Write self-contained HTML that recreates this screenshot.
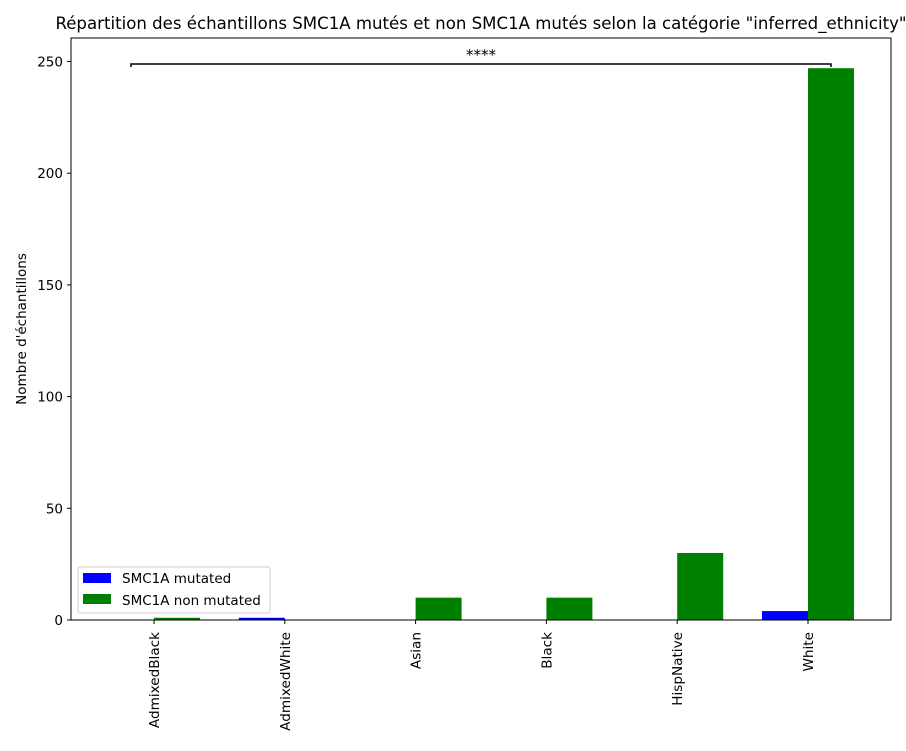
<!DOCTYPE html>
<html><head><meta charset="utf-8"><style>
body{margin:0;background:#fff;}
svg text{font-family:"DejaVu Sans","Liberation Sans",sans-serif;}
</style></head><body>
<svg id="chart" width="906" height="746" xmlns="http://www.w3.org/2000/svg">
<rect width="906" height="746" fill="#fff"/>
<text x="481" y="29" font-size="16.6" text-anchor="middle">Répartition des échantillons SMC1A mutés et non SMC1A mutés selon la catégorie "inferred_ethnicity"</text>
<text transform="translate(26,329) rotate(-90)" font-size="13.5" text-anchor="middle">Nombre d'échantillons</text>
<g id="bars"></g>
<g id="axes"></g>
<rect x="71" y="38" width="820" height="582" fill="none" stroke="#000" stroke-width="1"/>
<g>
<path d="M131 67 V64 H831 V67" fill="none" stroke="#000" stroke-width="1.5"/>
<text x="481" y="60" font-size="15" text-anchor="middle">****</text>
</g>
<g>
<rect x="78" y="567" width="192" height="46" rx="2" fill="#fff" fill-opacity="0.8" stroke="#ccc"/>
<rect x="83" y="573" width="28" height="10" fill="#0000ff"/>
<text x="122" y="583" font-size="13.5">SMC1A mutated</text>
<rect x="83" y="594" width="28" height="10" fill="#008000"/>
<text x="122" y="605" font-size="13.5">SMC1A non mutated</text>
</g>
</svg>
<script>
const categories=["AdmixedBlack","AdmixedWhite","Asian","Black","HispNative","White"];
const mutated=[0,1,0,0,0,4];
const nonMutated=[1,0,10,10,30,247];
const yTicks=[0,50,100,150,200,250];
const NS="http://www.w3.org/2000/svg";
const y=v=>620-v*(620-61.5)/250;
const xc=i=>154+i*130.8;
const bw=46;
const bars=document.getElementById('bars'),axes=document.getElementById('axes');
function mk(t,a,p){const e=document.createElementNS(NS,t);for(const k in a)e.setAttribute(k,a[k]);p.appendChild(e);return e;}
categories.forEach((c,i)=>{
 const b1=mk('rect',{x:xc(i)-bw,y:y(mutated[i]),width:bw,height:620-y(mutated[i]),fill:'#0000ff'},bars);
 
 
 const b2=mk('rect',{x:xc(i),y:y(nonMutated[i]),width:bw,height:620-y(nonMutated[i]),fill:'#008000'},bars);
 
 
 mk('line',{x1:xc(i),x2:xc(i),y1:620,y2:624,stroke:'#000'},axes);
 const t=mk('text',{transform:`translate(${xc(i)+5},632) rotate(-90)`,'font-size':'13.6','text-anchor':'end'},axes);
 t.textContent=c;
 
 
});
yTicks.forEach(v=>{
 mk('line',{x1:67,x2:71,y1:y(v),y2:y(v),stroke:'#000'},axes);
 const t=mk('text',{x:63,y:y(v)+5,'font-size':'13.5','text-anchor':'end'},axes);
 t.textContent=v;
 
 
});
</script>
</body></html>
